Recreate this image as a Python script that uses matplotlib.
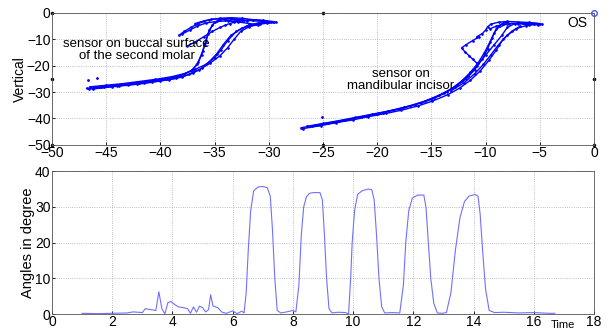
import matplotlib
matplotlib.use('Agg')
import matplotlib.pyplot as plt

plt.rcParams['font.family'] = ['Liberation Sans', 'DejaVu Sans']

# molar sensor traces (horizontal, vertical)
molar_x = [
    [-46.8, -45.5, -44, -42.5, -41, -39.5, -38.2, -37.2, -36.6, -36.2, -35.9, -35.6, -35.2, -34.6, -33.5, -32, -30.5, -29.3],
    [-46.5, -45, -43.5, -42, -40.5, -39, -37.8, -36.8, -35.8, -35.0, -34.4, -33.8, -33.0, -32.0, -31.0, -30.0],
    [-46.2, -44.5, -43, -41.5, -40, -38.6, -37.4, -36.4, -35.4, -34.5, -33.8, -33.2, -32.6, -31.8, -30.8, -29.6],
    [-45.8, -44, -42, -40.2, -38.8, -37.8, -37.0, -36.5, -36.1, -35.8, -35.5, -35.0, -34.0, -33.0, -32.0],
    [-29.5, -30.5, -31.5, -32.5, -33.5, -34.5, -35.5, -36.5, -37.2, -37.8, -38.3],
    [-38.0, -37.3, -36.6, -35.8, -34.8, -33.8, -32.8, -31.8, -31.0],
    [-37.5, -36.8, -36.0, -35.2, -34.5, -34.0, -33.6, -33.2, -32.7],
    [-46.6, -45.2, -43.8, -42.2, -40.8, -39.2, -38.0, -37.0, -36.2, -35.5, -34.8, -34.2, -33.5, -32.5, -31.2, -30.2],
    [-36.8, -36.0, -35.3, -34.6, -34.0, -33.2, -32.4, -31.5, -30.5, -29.8],
]
molar_y = [
    [-28.6, -28.0, -27.3, -26.6, -25.9, -25.0, -23.8, -22.0, -19.5, -16.0, -12.0, -8.0, -4.5, -2.5, -2.0, -2.8, -3.2, -3.5],
    [-28.0, -27.4, -26.8, -26.0, -25.2, -24.2, -23.0, -21.4, -19.5, -17.0, -14.0, -10.5, -7.0, -4.8, -3.8, -3.4],
    [-28.8, -28.0, -27.4, -26.7, -25.8, -24.8, -23.3, -21.5, -19.0, -16.2, -13.2, -10.0, -7.0, -5.2, -4.2, -3.6],
    [-28.2, -27.5, -26.4, -25.4, -24.4, -23.2, -21.5, -18.5, -14.5, -10.5, -6.5, -3.5, -2.2, -2.5, -3.0],
    [-3.3, -2.8, -2.5, -2.0, -1.8, -2.0, -2.6, -4.0, -5.5, -7.0, -8.5],
    [-8.0, -6.5, -5.0, -3.8, -3.2, -3.0, -3.4, -4.0, -4.5],
    [-12.5, -11.0, -9.0, -7.0, -5.5, -4.6, -4.0, -3.5, -3.0],
    [-28.9, -28.2, -27.6, -26.9, -26.1, -25.3, -24.3, -22.8, -21.0, -18.5, -15.5, -12.0, -8.5, -5.8, -4.3, -3.7],
    [-4.0, -3.0, -2.4, -2.2, -2.6, -3.2, -3.0, -2.6, -2.9, -3.4],
]

# incisor sensor traces
incisor_x = [
    [-27.0, -25.5, -24, -22.5, -21, -19.5, -18, -16.5, -15, -13.8, -12.8, -11.8, -11.0, -10.3, -9.8, -9.4, -9.0, -8.0, -6.5, -4.8],
    [-26.5, -25, -23.5, -22, -20.5, -19, -17.5, -16, -14.8, -13.6, -12.6, -11.6, -10.8, -10.0, -9.2, -8.5, -8.0, -7.3, -6.2, -5.2],
    [-26.0, -24.5, -23, -21.5, -20, -18.5, -17, -15.6, -14.3, -13.1, -12.2, -11.4, -10.7, -10.1, -9.6, -9.2, -8.8, -8.4, -8.0],
    [-13.2, -12.0, -11.0, -10.2, -9.5, -8.8, -8.0, -7.2, -6.3, -5.5],
    [-10.6, -11.2, -11.8, -12.2, -11.9, -11.5, -11.2, -10.8],
    [-5.0, -6.0, -7.0, -8.0, -8.8, -9.5, -9.8, -10.0, -10.3, -10.8],
    [-9.6, -9.0, -8.4, -7.8, -7.0, -6.0, -5.2],
    [-26.8, -25.2, -23.8, -22.2, -20.8, -19.2, -17.8, -16.2, -14.9, -13.5, -12.4, -11.4, -10.5, -9.7, -9.0, -8.4, -7.6, -6.8],
]
incisor_y = [
    [-43.5, -42.4, -41.3, -40.2, -39.0, -37.8, -36.5, -34.8, -32.8, -30.5, -28.0, -25.0, -21.5, -17.5, -13.5, -9.5, -6.0, -4.0, -3.8, -4.2],
    [-43.0, -41.9, -40.8, -39.6, -38.4, -37.2, -35.8, -34.1, -32.2, -30.0, -27.2, -23.8, -20.0, -16.0, -12.0, -8.5, -5.5, -4.0, -3.8, -4.0],
    [-43.0, -41.8, -40.6, -39.4, -38.2, -36.8, -35.2, -33.4, -31.2, -28.6, -25.8, -22.5, -19.0, -15.0, -11.0, -7.5, -5.0, -3.8, -3.5],
    [-29.5, -26.5, -23.0, -19.5, -15.8, -12.0, -8.5, -6.0, -4.8, -4.3],
    [-9.0, -10.5, -12.0, -13.2, -14.8, -16.2, -17.5, -19.0],
    [-4.0, -3.6, -3.4, -3.2, -3.5, -4.2, -5.2, -6.5, -7.8, -9.0],
    [-6.0, -5.0, -4.3, -4.0, -4.1, -4.4, -4.5],
    [-43.8, -42.7, -41.6, -40.5, -39.3, -38.1, -36.9, -35.2, -33.4, -31.0, -28.5, -25.5, -22.0, -18.0, -14.0, -10.0, -7.0, -5.0],
]
stray_x = [-46.7, -45.8, -25.1]
stray_y = [-25.4, -24.5, -39.4]

ref_x = [-50, -50, -50, -25, -25, 0, 0]
ref_y = [0, -25, -50, 0, -50, -25, -50]

# angle vs time
time = [1.0, 1.5, 2.0, 2.5, 2.7, 3.0, 3.1, 3.3, 3.45, 3.55, 3.65, 3.75, 3.85, 3.95, 4.05, 4.2, 4.35, 4.5,
        4.6, 4.7, 4.8, 4.9, 5.0, 5.1, 5.2, 5.27, 5.35, 5.5, 5.65, 5.8, 6.0, 6.15, 6.3, 6.38,
        6.45, 6.52, 6.6, 6.7, 6.85, 7.0, 7.15, 7.25, 7.32, 7.4, 7.48, 7.6, 7.8, 8.0, 8.1,
        8.2, 8.28, 8.36, 8.45, 8.55, 8.7, 8.9, 8.98, 9.05, 9.12, 9.2, 9.3, 9.5, 9.75, 9.85,
        9.92, 9.97, 10.05, 10.15, 10.3, 10.5, 10.62, 10.7, 10.78, 10.86, 10.95, 11.05, 11.3, 11.55,
        11.67, 11.75, 11.85, 11.97, 12.15, 12.35, 12.42, 12.5, 12.58, 12.68, 12.8, 12.95, 13.1,
        13.25, 13.4, 13.55, 13.7, 13.85, 14.05, 14.15, 14.22, 14.3, 14.4, 14.52, 14.7, 15.0, 15.5, 16.0, 16.5, 16.7]
angle = [0.2, 0.1, 0.2, 0.3, 0.6, 0.4, 1.5, 1.2, 1.0, 6.2, 1.5, 0.0, 3.2, 3.5, 2.8, 2.0, 1.8, 1.5,
         0.2, 2.0, 0.5, 2.2, 1.8, 0.6, 1.2, 5.4, 2.2, 1.8, 0.5, 0.2, 0.9, 0.1, 0.8, 0.3,
         6, 18, 29, 34.5, 35.6, 35.7, 35.4, 33, 24, 10, 1, 0.3, 0.6, 1.0, 0.6,
         8, 22, 30, 32.8, 33.8, 34.0, 34.0, 32, 22, 10, 1.5, 0.3, 0.5, 0.4, 0.0,
         10, 20, 29, 33.5, 34.5, 35.0, 34.8, 32, 22, 10, 2, 0.3, 0.4, 0.3,
         8, 20, 29, 32.5, 33.3, 33.3, 30, 20, 10, 3, 0.3, 0.2, 0.4,
         6, 18, 27, 31.5, 33.0, 33.5, 33.0, 28, 18, 7, 1, 0.4, 0.5, 0.3, 0.4, 0.2, 0.2]

fig = plt.figure(figsize=(6.1, 3.33), dpi=100)
ax1 = fig.add_axes([0.0852, 0.565, 0.8885, 0.396])
ax2 = fig.add_axes([0.0852, 0.057, 0.8885, 0.429])

for xs, ys in zip(molar_x + incisor_x, molar_y + incisor_y):
    ax1.plot(xs, ys, '.-', color='blue', lw=1.0, markersize=1.8)
ax1.plot(stray_x, stray_y, '.', color='blue', markersize=2)
ax1.plot(ref_x, ref_y, 'k.', markersize=3, clip_on=False)
ax1.plot([0], [0], 'o', mfc='none', mec='#5050ff', markersize=4, clip_on=False)
ax1.text(-0.6, -1.2, 'OS', fontsize=10, ha='right', va='top')
ax1.text(-42.2, -14.0, 'sensor on buccal surface\nof the second molar', fontsize=9.5,
         ha='center', va='center', linespacing=1.0)
ax1.text(-17.8, -25.4, 'sensor on\nmandibular incisor', fontsize=9.5,
         ha='center', va='center', linespacing=1.0)
ax1.set_xlim(-50, 0)
ax1.set_ylim(-50, 0)
ax1.set_xticks(range(-50, 1, 5))
ax1.set_yticks(range(-50, 1, 10))
ax1.set_ylabel('Vertical', fontsize=10, labelpad=0)
ax1.grid(True, linestyle=':', color='#aaaaaa', lw=0.6)

ax2.plot(time, angle, color='#7070ff', lw=0.8)
ax2.set_xlim(0, 18)
ax2.set_ylim(0, 40)
ax2.set_xticks(range(0, 19, 2))
ax2.set_yticks(range(0, 41, 10))
ax2.set_ylabel('Angles in degree', fontsize=10.5, labelpad=0)
ax2.grid(True, linestyle=':', color='#aaaaaa', lw=0.6)
ax2.text(0.965, -0.045, 'Time', transform=ax2.transAxes, fontsize=8, ha='right', va='top')

for ax in (ax1, ax2):
    ax.tick_params(labelsize=10, length=2, width=0.6, pad=1, direction='in')
    for s in ax.spines.values():
        s.set_linewidth(0.6)
        s.set_color('#555555')

fig.savefig('out.png', dpi=100)
